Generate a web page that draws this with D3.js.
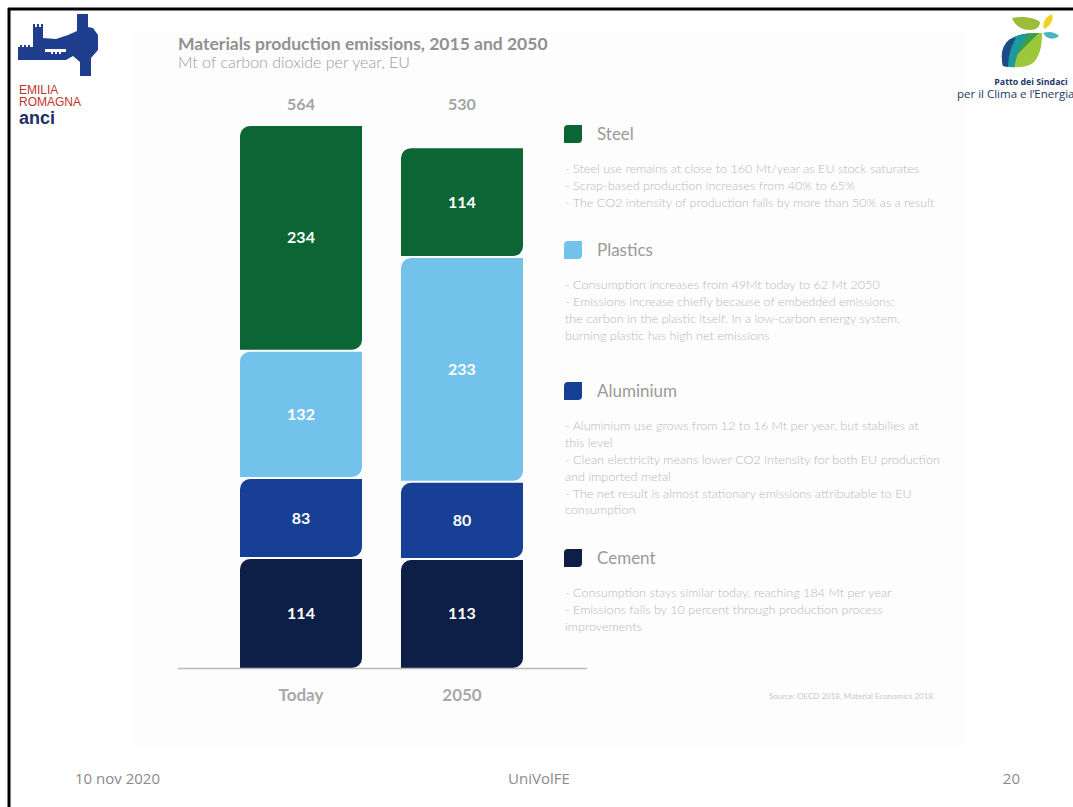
<!DOCTYPE html>
<html>
  <head>
    <meta charset="utf-8">
    <style>
      body { margin: 0; background: #fff; }
      svg { display: block; }
      text { font-family: Lato, "Open Sans", sans-serif; }
    </style>
  </head>
  <body>
    <div id='chart'></div>

    <script src="https://cdn.jsdelivr.net/npm/d3@7/dist/d3.min.js"></script>
    <script>

    // data
    var periods = ['Today', '2050'];
    var materials = ['Cement', 'Aluminium', 'Plastics', 'Steel'];   // bottom to top
    var cement = [114, 113];
    var aluminium = [83, 80];
    var plastics = [132, 233];
    var steel = [234, 114];
    var totals = [564, 530];
    var colors = { Steel: '#0b6534', Plastics: '#73c2ec', Aluminium: '#183f96', Cement: '#0d1e47' };

    var legendNames = ['Steel', 'Plastics', 'Aluminium', 'Cement'];
    var legendNotes = [
      ['- Steel use remains at close to 160 Mt/year as EU stock saturates',
       '- Scrap-based production increases from 40% to 65%',
       '- The CO2 intensity of production falls by more than 50% as a result'],
      ['- Consumption increases from 49Mt today to 62 Mt 2050',
       '- Emissions increase chiefly because of embedded emissions:',
       'the carbon in the plastic itself. In a low-carbon energy system,',
       'burning plastic has high net emissions'],
      ['- Aluminium use grows from 12 to 16 Mt per year, but stabilies at',
       'this level',
       '- Clean electricity means lower CO2 intensity for both EU production',
       'and imported metal',
       '- The net result is almost stationary emissions attributable to EU',
       'consumption'],
      ['- Consumption stays similar today, reaching 184 Mt per year',
       '- Emissions falls by 10 percent through production process',
       'improvements']
    ];

    var rows = periods.map(function(p, i) {
      return { period: p, Cement: cement[i], Aluminium: aluminium[i], Plastics: plastics[i], Steel: steel[i] };
    });

    var width = 1073, height = 807;

    var svg = d3.select('#chart').append('svg')
        .attr('width', width)
        .attr('height', height);

    // faint panel of the pasted picture
    svg.append('rect')
        .attr('x', 133).attr('y', 30)
        .attr('width', 832).attr('height', 718)
        .attr('fill', '#fdfdfd');

    // slide frame
    svg.append('line').attr('x1', 8).attr('x2', width).attr('y1', 9).attr('y2', 9)
        .attr('stroke', '#000').attr('stroke-width', 3);
    svg.append('line').attr('x1', 9).attr('x2', 9).attr('y1', 8).attr('y2', height)
        .attr('stroke', '#000').attr('stroke-width', 3);

    // leaf shaped rectangle: top-left and bottom-right corners rounded
    function leaf(x, y, w, h, r) {
      r = Math.min(r, h / 2, w / 2);
      return 'M' + x + ',' + (y + r) +
        'A' + r + ',' + r + ' 0 0 1 ' + (x + r) + ',' + y +
        'H' + (x + w) +
        'V' + (y + h - r) +
        'A' + r + ',' + r + ' 0 0 1 ' + (x + w - r) + ',' + (y + h) +
        'H' + x + 'Z';
    }

    var x = d3.scaleBand()
        .domain(periods)
        .range([240, 523])
        .paddingInner(0.242);

    var y = d3.scaleLinear()
        .domain([0, d3.max(totals)])
        .range([668, 124]);

    var stack = d3.stack().keys(materials);
    var series = stack(rows);

    var g = svg.append('g');

    series.forEach(function(s) {
      var seg = g.selectAll('.seg-' + s.key)
          .data(s)
          .enter();

      seg.append('path')
          .attr('fill', colors[s.key])
          .attr('d', function(d) {
            var top = y(d[1]) + 1;
            var bottom = d[0] === 0 ? y(d[0]) : y(d[0]) - 1;
            return leaf(x(d.data.period), top, x.bandwidth(), bottom - top, 10);
          });

      seg.append('text')
          .attr('x', function(d) { return x(d.data.period) + x.bandwidth() / 2; })
          .attr('y', function(d) { return (y(d[0]) + y(d[1])) / 2; })
          .attr('dy', '0.35em')
          .attr('text-anchor', 'middle')
          .attr('fill', '#fff')
          .attr('font-weight', 700)
          .attr('font-size', 16)
          .text(function(d) { return d[1] - d[0]; });
    });

    // baseline
    svg.append('line')
        .attr('x1', 178).attr('x2', 587)
        .attr('y1', 668.5).attr('y2', 668.5)
        .attr('stroke', '#b9b9b9').attr('stroke-width', 1.5);

    // totals above bars
    svg.selectAll('.total')
        .data(totals)
        .enter().append('text')
        .attr('class', 'total')
        .attr('x', function(d, i) { return x(periods[i]) + x.bandwidth() / 2; })
        .attr('y', 104)
        .attr('dy', '0.35em')
        .attr('text-anchor', 'middle')
        .attr('fill', '#a3a3a3')
        .attr('font-weight', 700)
        .attr('font-size', 16)
        .text(function(d) { return d; });

    // category axis
    var xAxis = svg.append('g')
        .attr('transform', 'translate(0,695)')
        .call(d3.axisBottom(x).tickSize(0).tickPadding(0));
    xAxis.select('.domain').remove();
    xAxis.selectAll('text')
        .attr('dy', '0.35em')
        .attr('fill', '#a8a8a8')
        .attr('font-weight', 700)
        .attr('font-size', 17);

    // title
    svg.append('text')
        .attr('x', 178).attr('y', 50)
        .attr('fill', '#919191')
        .attr('font-weight', 700)
        .attr('font-size', 17.5)
        .text('Materials production emissions, 2015 and 2050');
    svg.append('text')
        .attr('x', 178).attr('y', 68)
        .attr('fill', '#9c9c9c')
        .attr('font-weight', 300)
        .attr('font-size', 16)
        .text('Mt of carbon dioxide per year, EU');

    // legend
    var headerY = [134, 250, 391, 558];
    legendNames.forEach(function(name, i) {
      var lg = svg.append('g').attr('transform', 'translate(564,' + headerY[i] + ')');
      lg.append('path')
          .attr('d', leaf(0, -9, 18, 18, 4))
          .attr('fill', colors[name]);
      lg.append('text')
          .attr('x', 33).attr('y', 0)
          .attr('dy', '0.35em')
          .attr('fill', '#9a9a9a')
          .attr('font-size', 17)
          .text(name);
      lg.selectAll('.note')
          .data(legendNotes[i])
          .enter().append('text')
          .attr('x', 1)
          .attr('y', function(d, j) { return 35 + j * 16.8; })
          .attr('dy', '0.35em')
          .attr('fill', '#b9b9b9')
          .attr('font-weight', 300)
          .attr('font-size', 12.6)
          .text(function(d) { return d; });
    });

    svg.append('text')
        .attr('x', 933).attr('y', 699)
        .attr('text-anchor', 'end')
        .attr('fill', '#c8c8c8')
        .attr('font-size', 8)
        .text('Source: OECD 2018, Material Economics 2018');

    // footer
    var footer = svg.append('g')
        .attr('font-size', 15)
        .attr('fill', '#8a8a8a');
    footer.append('text').attr('x', 75).attr('y', 784)
        .style('font-family', '"Open Sans", sans-serif').text('10 nov 2020');
    footer.append('text').attr('x', 539).attr('y', 784).attr('text-anchor', 'middle')
        .style('font-family', '"Open Sans", sans-serif').text('UniVolFE');
    footer.append('text').attr('x', 1020).attr('y', 784).attr('text-anchor', 'end')
        .style('font-family', '"Open Sans", sans-serif').text('20');

    // Emilia Romagna anci logo
    var logo = svg.append('g');
    logo.append('path')
        .attr('fill', '#1f3f8e')
        .attr('d', 'M18,60 L18,47 L20,47 L20,45 L22,45 L22,47 L24,47 L24,45 L26,45 L26,47 L28,47 L28,45 L30,45 ' +
                   'L30,47 L33,47 L33,24 L35,24 L35,27 L37,27 L37,24 L39,24 L39,27 L41,27 L41,24 L43,24 ' +
                   'L43,38 L56,39 L68,35 L77,31 L77,14 L88,14 L88,27 L93,28 L98,35 L98,50 L91,58 ' +
                   'L91,76 L80,76 L80,62 L73,56 L66,60 Z');
    // gap with crenellations between the upper and lower walls
    logo.append('path')
        .attr('fill', '#fff')
        .attr('d', 'M45,49 L66,49 L66,52 L61,52 L61,54 L59,54 L59,52 L57,52 L57,54 L55,54 L55,52 ' +
                   'L53,52 L53,54 L51,54 L51,52 L45,52 Z');
    logo.append('text').attr('x', 19).attr('y', 94).attr('fill', '#c0352b')
        .attr('font-size', 12).style('font-family', '"Liberation Sans Narrow", "Liberation Sans", sans-serif')
        .text('EMILIA');
    logo.append('text').attr('x', 19).attr('y', 106).attr('fill', '#c0352b')
        .attr('font-size', 12).style('font-family', '"Liberation Sans Narrow", "Liberation Sans", sans-serif')
        .text('ROMAGNA');
    logo.append('text').attr('x', 19).attr('y', 124).attr('fill', '#1d2f66')
        .attr('font-weight', 700).attr('font-size', 18).style('font-family', '"Liberation Sans", sans-serif')
        .text('anci');

    // Patto dei Sindaci logo
    var pl = svg.append('g');
    var defs = svg.append('defs');
    defs.append('clipPath').attr('id', 'body-clip')
      .append('path')
        .attr('d', 'M1042,33 C1028,33 1016,34 1008,41 C1001,48 1001,58 1003,66 C1014,68 1026,68 1033,63 ' +
                   'C1040,56 1042,46 1042,33 Z');
    var body = pl.append('g').attr('clip-path', 'url(#body-clip)');
    body.append('rect').attr('x', 1000).attr('y', 30).attr('width', 45).attr('height', 40).attr('fill', '#9cc83c');
    body.append('path').attr('fill', '#3a9e4a')
        .attr('d', 'M1000,70 C1012,60 1024,48 1040,32 L1000,30 Z');
    body.append('path').attr('fill', '#1d9aa0')
        .attr('d', 'M1000,70 L1014,70 C1016,56 1020,44 1030,32 L1000,30 Z');
    body.append('path').attr('fill', '#1f4a8c')
        .attr('d', 'M1000,70 L1008,70 C1008,58 1010,48 1016,38 L1000,40 Z');
    pl.append('path').attr('fill', '#9bbd3a')
        .attr('d', 'M1012,18 C1022,16 1034,17 1040,22 C1040,27 1036,30 1030,30 C1022,30 1015,26 1012,18 Z');
    pl.append('path').attr('fill', '#f2d21e')
        .attr('d', 'M1044,29 C1042,23 1045,17 1052,14 C1054,21 1050,26 1044,29 Z');
    pl.append('path').attr('fill', '#4db3c6')
        .attr('d', 'M1043,33 C1049,31 1055,32 1059,36 C1054,40 1047,40 1043,33 Z');
    pl.append('text').attr('x', 1031).attr('y', 85).attr('text-anchor', 'middle')
        .attr('fill', '#1d3766').attr('font-weight', 700).attr('font-size', 8.8)
        .style('font-family', '"Open Sans", sans-serif').text('Patto dei Sindaci');
    pl.append('text').attr('x', 957).attr('y', 98)
        .attr('fill', '#1d3766').attr('font-size', 11.5)
        .style('font-family', '"Open Sans", sans-serif').text('per il Clima e l\u2019Energia');

    </script>
  </body>
</html>
